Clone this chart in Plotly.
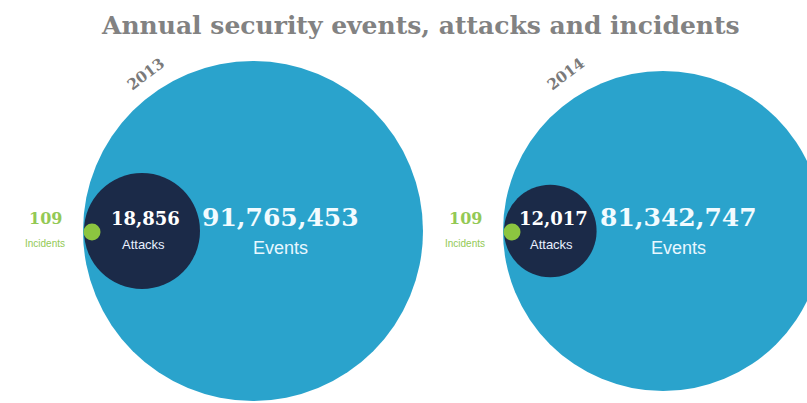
import numpy as np
import plotly.graph_objects as go

# ---- data ----
years = ["2013", "2014"]
events = [91765453, 81342747]
attacks = [18856, 12017]
incidents = [109, 109]
title_text = "Annual security events, attacks and incidents"

# ---- style ----
W, H = 807, 403
BIG_R_MAX = 170      # px radius for the largest events bubble
DARK_R_MAX = 58      # px radius for the largest attacks bubble
DOT_R = 8.5
left_edges = [83, 503]
cy = 231
c_big = "#2aa3cc"
c_dark = "#1b2a48"
c_green = "#8cc540"
c_green_txt = "#93c955"
slab = "DejaVu Serif"
sans = "Liberation Sans"

def fmt(v):
    return f"{v:,}"

fig = go.Figure()
shapes = []
annotations = []
ev_max = max(events)
at_max = max(attacks)
for i, yr in enumerate(years):
    x0 = left_edges[i]
    R = BIG_R_MAX * np.sqrt(events[i] / ev_max)
    r = DARK_R_MAX * np.sqrt(attacks[i] / at_max)
    cbx = x0 + R
    cdx = x0 + r + 1
    cgx = x0 + DOT_R + 0.5
    shapes.append(dict(type="circle", xref="x", yref="y", x0=cbx - R, x1=cbx + R,
                       y0=cy - R, y1=cy + R, fillcolor=c_big, line=dict(width=0), layer="above"))
    shapes.append(dict(type="circle", xref="x", yref="y", x0=cdx - r, x1=cdx + r,
                       y0=cy - r, y1=cy + r, fillcolor=c_dark, line=dict(width=0), layer="above"))
    shapes.append(dict(type="circle", xref="x", yref="y", x0=cgx - DOT_R, x1=cgx + DOT_R,
                       y0=cy + 1 - DOT_R, y1=cy + 1 + DOT_R, fillcolor=c_green, line=dict(width=0), layer="above"))
    # events labels (centred in the area right of the dark circle)
    ex = cdx + r + (cbx + R - (cdx + r)) * 0.36
    annotations.append(dict(x=ex, y=cy - 14, text=f"<b>{fmt(events[i])}</b>", showarrow=False,
                            font=dict(family=slab, size=25, color="#f2fbff")))
    annotations.append(dict(x=ex, y=cy + 17, text="Events", showarrow=False,
                            font=dict(family=sans, size=18, color="#e8f7ff")))
    # attacks labels
    annotations.append(dict(x=cdx + 3, y=cy - 13, text=f"<b>{fmt(attacks[i])}</b>", showarrow=False,
                            font=dict(family=slab, size=18, color="#ffffff")))
    annotations.append(dict(x=cdx + 1, y=cy + 13, text="Attacks", showarrow=False,
                            font=dict(family=sans, size=13, color="#e8f0ff")))
    # incidents labels
    annotations.append(dict(x=x0 - 38, y=cy - 13, text=f"<b>{fmt(incidents[i])}</b>", showarrow=False,
                            font=dict(family=slab, size=16, color=c_green_txt)))
    annotations.append(dict(x=x0 - 38, y=cy + 12, text="Incidents", showarrow=False,
                            font=dict(family=sans, size=10, color=c_green_txt)))
    # year label
    annotations.append(dict(x=x0 + 63, y=cy - 157, text=f"<b>{yr}</b>", showarrow=False, textangle=-37,
                            font=dict(family=slab, size=15, color="#7a7a7a")))

annotations.append(dict(x=420, y=25, text=f"<b>{title_text}</b>", showarrow=False,
                        font=dict(family=slab, size=25, color="#828282")))
for a in annotations:
    a.update(xref="x", yref="y")

fig.update_layout(
    width=W, height=H, margin=dict(l=0, r=0, t=0, b=0),
    paper_bgcolor="white", plot_bgcolor="white",
    xaxis=dict(range=[0, W], visible=False, fixedrange=True),
    yaxis=dict(range=[H, 0], visible=False, fixedrange=True),
    shapes=shapes, annotations=annotations, showlegend=False,
)
fig.write_html("out.html")
